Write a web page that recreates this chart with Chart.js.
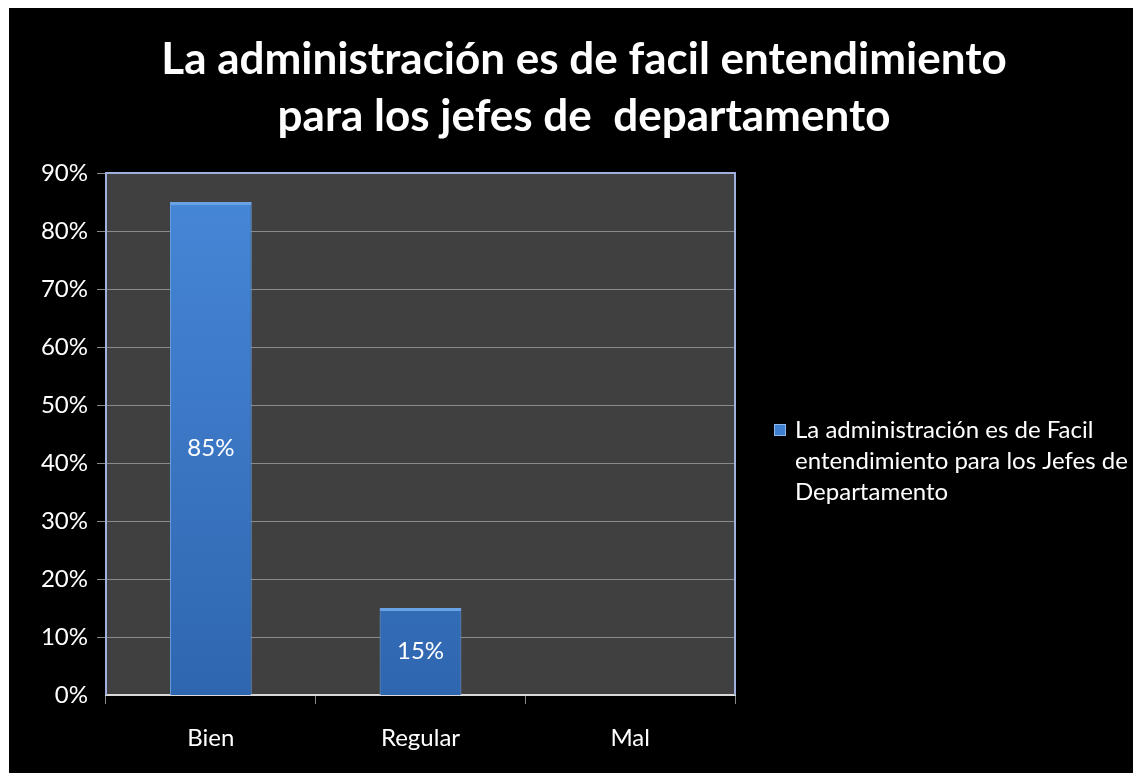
<!DOCTYPE html>
<html>
<head>
<meta charset="utf-8">
<script src="https://cdn.jsdelivr.net/npm/chart.js@4/dist/chart.umd.min.js"></script>
<style>
  html, body { margin: 0; padding: 0; background: #ffffff; }
  #wrap { position: absolute; left: 9px; top: 8px; width: 1124px; height: 765px; background: #000000; }
</style>
</head>
<body>
<div id="wrap"><canvas id="myChart"></canvas></div>
<script>
    var titleLines = ["La administración es de facil entendimiento", "para los jefes de  departamento"];
    var categories = ["Bien", "Regular", "Mal"];
    var values = [85, 15, 0];
    var seriesName = "La administración es de Facil entendimiento para los Jefes de Departamento";
    var legendLines = ["La administración es de Facil", "entendimiento para los Jefes de", "Departamento"];

    var fontFamily = "Lato, 'Open Sans', sans-serif";

    // plot background, frame, title, value labels and the wrapped legend
    var decorPlugin = {
        id: 'decor',
        beforeDraw: function(chart) {
            var a = chart.chartArea, ctx = chart.ctx;
            ctx.save();
            ctx.fillStyle = '#404040';
            ctx.fillRect(a.left, a.top, a.right - a.left, a.bottom - a.top);

            ctx.fillStyle = '#ffffff';
            ctx.font = 'bold 44px ' + fontFamily;
            ctx.textAlign = 'center';
            ctx.textBaseline = 'middle';
            titleLines.forEach(function(t, i) {
                ctx.fillText(t, 575, 52 + i * 57);
            });
            ctx.restore();
        },
        afterDatasetsDraw: function(chart) {
            var a = chart.chartArea, ctx = chart.ctx;
            ctx.save();
            ctx.strokeStyle = '#9fb0dc';
            ctx.lineWidth = 2;
            ctx.beginPath();
            ctx.moveTo(a.left, a.top);
            ctx.lineTo(a.right, a.top);
            ctx.lineTo(a.right, a.bottom);
            ctx.stroke();

            // value labels
            var meta = chart.getDatasetMeta(0);
            ctx.fillStyle = '#ffffff';
            ctx.font = '24px ' + fontFamily;
            ctx.textAlign = 'center';
            ctx.textBaseline = 'middle';
            meta.data.forEach(function(bar, i) {
                if (!values[i]) return;
                ctx.fillText(values[i] + '%', bar.x, (bar.y + bar.base) / 2);
            });

            // legend
            var lx = a.right + 39, ly = a.top + 257;
            ctx.fillStyle = '#3f7fd0';
            ctx.fillRect(lx, ly - 6, 12, 12);
            ctx.strokeStyle = '#8fb8ee';
            ctx.lineWidth = 1;
            ctx.strokeRect(lx + 0.5, ly - 5.5, 11, 11);
            ctx.fillStyle = '#ffffff';
            ctx.textAlign = 'left';
            legendLines.forEach(function(t, i) {
                ctx.fillText(t, lx + 21, ly + i * 31);
            });
            ctx.restore();
        }
    };

    var data = {
        labels: categories,
        datasets: [{
            label: seriesName,
            data: values,
            backgroundColor: function(context) {
                var a = context.chart.chartArea;
                if (!a) return '#3b7bcc';
                var g = context.chart.ctx.createLinearGradient(0, a.top, 0, a.bottom);
                g.addColorStop(0, '#4788d8');
                g.addColorStop(1, '#2f66b0');
                return g;
            },
            borderColor: '#6aa2e6',
            borderWidth: {top: 3, left: 1, right: 1, bottom: 0},
            borderSkipped: 'bottom',
            barPercentage: 0.39,
            categoryPercentage: 1
        }]
    };

    var options = {
        responsive: true,
        maintainAspectRatio: false,
        animation: false,
        layout: {
            padding: {left: 0, right: 398, top: 165, bottom: 0}
        },
        plugins: {
            legend: { display: false },
            tooltip: { enabled: false },
            title: { display: false }
        },
        scales: {
            x: {
                afterFit: function(scale) { scale.height = 78; },
                grid: {
                    display: true,
                    drawOnChartArea: false,
                    drawTicks: true,
                    tickLength: 9,
                    tickColor: '#8a8a8a',
                    offset: true
                },
                border: { color: '#d8d8d8', width: 2 },
                ticks: {
                    color: '#ffffff',
                    padding: 20,
                    font: { family: fontFamily, size: 24 }
                }
            },
            y: {
                min: 0,
                max: 90,
                afterFit: function(scale) { scale.width = 97; },
                grid: {
                    color: '#8a8a8a',
                    lineWidth: function(ctx) { return ctx.index === 0 ? 0 : 1; },
                    tickLength: 9,
                    tickColor: '#8a8a8a'
                },
                border: { color: '#9fb0dc', width: 2 },
                ticks: {
                    stepSize: 10,
                    color: '#ffffff',
                    padding: 9,
                    font: { family: fontFamily, size: 24 },
                    callback: function(v) { return v + '%'; }
                }
            }
        }
    };

    var ctx1 = document.getElementById("myChart");
    var myChart = new Chart(ctx1, {
        type: 'bar',
        data: data,
        options: options,
        plugins: [decorPlugin]
    });
</script>
</body>
</html>
